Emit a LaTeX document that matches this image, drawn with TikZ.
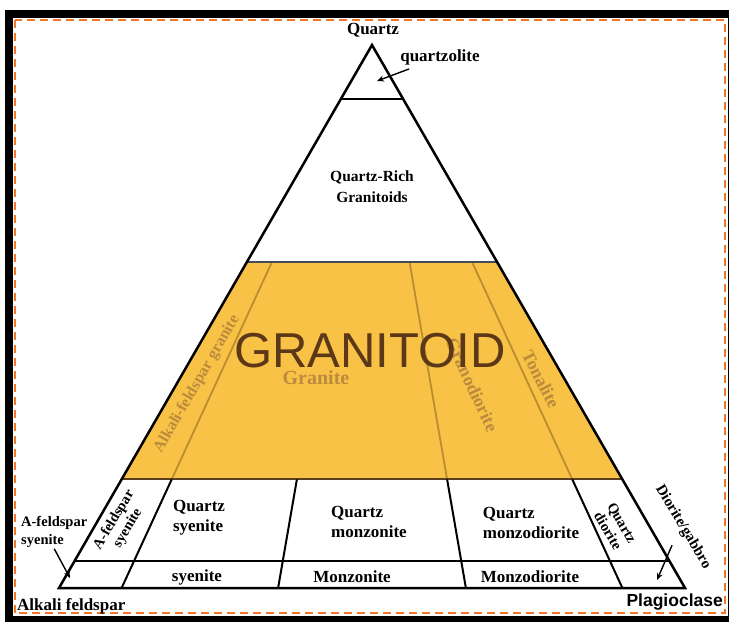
\documentclass[tikz,border=0pt]{standalone}
\usepackage{fontspec}
\setmainfont{Liberation Serif}
\newfontfamily\labsans{Liberation Sans}
\usetikzlibrary{calc,arrows.meta}
\definecolor{granfill}{RGB}{247,194,70}
\definecolor{granline}{RGB}{186,142,48}
\definecolor{granlab}{RGB}{188,138,60}
\definecolor{granbig}{RGB}{92,56,24}
\definecolor{granedge}{RGB}{90,62,30}
\definecolor{topedge}{RGB}{70,75,90}
\definecolor{framedash}{RGB}{242,118,40}
\tikzset{
  edge/.style={line width=2.5pt,line join=miter},
  cut/.style={line width=2pt},
  goldcut/.style={granline,line width=1.8pt},
  lab/.style={font=\bfseries\fontsize{17}{18}\selectfont,align=center,inner sep=1pt},
  smalllab/.style={font=\bfseries\fontsize{14.5}{16}\selectfont,align=center,inner sep=1pt},
  glab/.style={text=granlab,font=\bfseries\fontsize{18}{19}\selectfont,inner sep=1pt},
  pointer/.style={-{Stealth[length=7pt,width=6pt]},line width=1.4pt}
}
\begin{document}
\begin{tikzpicture}[x=1pt,y=-1pt]
\useasboundingbox (0,0) rectangle (729,622);
\fill[black] (5,10) rectangle (729,622);
\fill[white] (13,18) rectangle (727.5,616);
\draw[framedash,line width=1.8pt,dash pattern=on 8pt off 5pt] (14.8,19.8) rectangle (725.2,613.2);

\coordinate (Q) at (372,45);
\coordinate (A) at (59,588);
\coordinate (P) at (685,588);
\foreach \q in {90,60,20,5} {
  \coordinate (L\q) at ($(A)!\q/100!(Q)$);
  \coordinate (R\q) at ($(P)!\q/100!(Q)$);
}

\fill[granfill] (L60) -- (R60) -- (R20) -- (L20) -- cycle;
\foreach \r in {0.1,0.65,0.9}
  \draw[goldcut] ($(L60)!\r!(R60)$) -- ($(L20)!\r!(R20)$);
\draw[topedge,line width=1.8pt] (L60) -- (R60);
\draw[cut] (L90) -- (R90);
\draw[cut,granedge] (L20) -- (R20);
\draw[cut] (L5) -- (R5);
\foreach \r in {0.1,0.35,0.65,0.9}
  \draw[cut] ($(L20)!\r!(R20)$) -- ($(A)!\r!(P)$);
\draw[edge] (Q) -- (A) -- (P) -- cycle;

\node[lab] (qtz) at (373,30) {Quartz};
\node[lab] (qzl) at (440,57) {quartzolite};
\coordinate (qzlpt) at (377,81);
\draw[pointer] ([xshift=10pt,yshift=-3pt]qzl.south west) -- (qzlpt);
\node[lab,font=\bfseries\fontsize{15.5}{21}\selectfont] (qrg) at (372,187) {Quartz-Rich\\Granitoids};

\node[glab,font=\bfseries\fontsize{16}{17}\selectfont,rotate=60] (afg) at (197,384) {Alkali-feldspar granite};
\node[glab,font=\bfseries\fontsize{20}{21}\selectfont] (gra) at (316,378) {Granite};
\node[glab,rotate=-65] (grd) at (472,385) {Granodiorite};
\node[glab,rotate=-63] (ton) at (541,379) {Tonalite};
\node[text=granbig,font=\labsans\fontsize{49}{50}\selectfont,inner sep=0pt] (big) at (370,351) {GRANITOID};

\node[smalllab,rotate=59] (afs) at (121,524) {A-feldspar\\syenite};
\node[smalllab,align=left,anchor=north west,font=\bfseries\fontsize{14.5}{18}\selectfont] (afsout) at (20,515) {A-feldspar\\syenite};
\coordinate (afspt) at (70,578);
\draw[pointer] (afsout.south) -- (afspt);
\node[lab,align=left,font=\bfseries\fontsize{17}{20}\selectfont] (qsy) at (199,518) {Quartz\\syenite};
\node[lab] (sye) at (197,577) {syenite};
\node[lab,align=left,font=\bfseries\fontsize{17}{20}\selectfont] (qmz) at (369,522) {Quartz\\monzonite};
\node[lab] (mzn) at (352,577) {Monzonite};
\node[lab,align=left,font=\bfseries\fontsize{17}{20}\selectfont] (qmd) at (531,523) {Quartz\\monzodiorite};
\node[lab] (mzd) at (530,577) {Monzodiorite};
\node[smalllab,rotate=-60] (qdi) at (615,527) {Quartz\\diorite};
\node[smalllab,font=\bfseries\fontsize{15}{16}\selectfont,rotate=-59] (dgb) at (683,527) {Diorite/gabbro};
\coordinate (dgbpt) at (657,580);
\draw[pointer] ([xshift=-4pt,yshift=-14pt]dgb.south) -- (dgbpt);

\node[lab,anchor=west] (akf) at (16,606) {Alkali feldspar};
\node[font=\labsans\bfseries\fontsize{17.5}{18}\selectfont,anchor=east,inner sep=1pt] (plg) at (724,602) {Plagioclase};
\end{tikzpicture}
\end{document}
